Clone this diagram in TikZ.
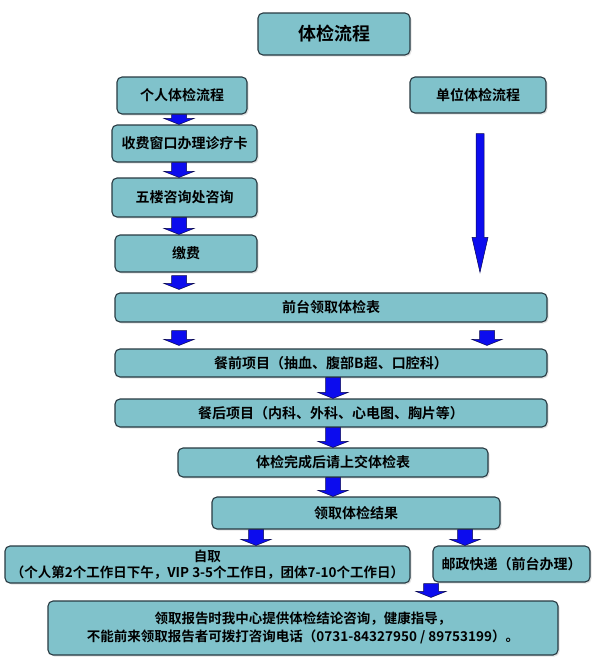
\documentclass[tikz,border=0pt]{standalone}
\usepackage{fontspec}
\setmainfont{Noto Sans CJK SC}[BoldFont={Noto Sans CJK SC Bold}]
\usetikzlibrary{calc,shadows}
\definecolor{boxfill}{RGB}{128,194,203}
\definecolor{boxedge}{RGB}{40,58,66}
\definecolor{arrblue}{RGB}{12,12,238}
\definecolor{arredge}{RGB}{10,10,80}
\begin{document}
\begin{tikzpicture}[x=1pt,y=-1pt,
  box/.style={draw=boxedge, line width=1.1pt, fill=boxfill, rounded corners=5pt,
    inner sep=0pt, align=center, font=\bfseries\fontsize{14}{17}\selectfont,
    drop shadow={opacity=0.22, shadow xshift=1.5pt, shadow yshift=-1.5pt}},
  sz/.style 2 args={minimum width=#1, minimum height=#2},
  barrow/.style n args={3}{fill=arrblue, draw=arredge, line width=0.5pt,
    to path={let \p1=(\tikztostart), \p2=(\tikztotarget) in
      (\x1-#1,\y1) -- (\x1+#1,\y1) -- (\x1+#1,\y2+#3) -- (\x1+#2,\y2+#3)
      -- (\x1,\y2) -- (\x1-#2,\y2+#3) -- (\x1-#1,\y2+#3) -- cycle}},
  small/.style={barrow={7.5pt}{15pt}{6pt}},
]
\useasboundingbox (0,0) rectangle (600,665);

% column coordinates for the arrows
\coordinate (colA) at (179,0);
\coordinate (colB) at (487,0);
\coordinate (colC) at (333,0);
\coordinate (colD) at (256,0);
\coordinate (colE) at (465,0);
\coordinate (colF) at (431,0);
\coordinate (colG) at (480,0);

\node[box,sz={152pt}{42pt},font=\bfseries\fontsize{18}{22}\selectfont] (title) at (334,34) {体检流程};
\node[box,sz={130pt}{37pt}] (geren) at (182,95.5) {个人体检流程};
\node[box,sz={136pt}{36pt}] (danwei) at (478,95) {单位体检流程};
\node[box,sz={145pt}{37pt}] (shoufei) at (184.5,143.5) {收费窗口办理诊疗卡};
\node[box,sz={145pt}{39pt}] (wulou) at (184.5,197.5) {五楼咨询处咨询};
\node[box,sz={142pt}{37pt}] (jiaofei) at (186,253.5) {缴费};
\node[box,sz={432pt}{29pt}] (qiantai) at (331,307.5) {前台领取体检表};
\node[box,sz={432pt}{28pt}] (canqian) at (331,363) {餐前项目（抽血、腹部B超、口腔科）};
\node[box,sz={432pt}{28pt}] (canhou) at (331,413) {餐后项目（内科、外科、心电图、胸片等）};
\node[box,sz={310pt}{29pt}] (wancheng) at (333,462.5) {体检完成后请上交体检表};
\node[box,sz={288pt}{32pt}] (lingqu) at (356,513) {领取体检结果};
\node[box,sz={405pt}{37pt},font=\bfseries\fontsize{13.5}{16}\selectfont] (ziqu) at (207.5,564.5)
  {自取\\（个人第2个工作日下午，VIP 3-5个工作日，团体7-10个工作日）};
\node[box,sz={157pt}{36pt}] (youzheng) at (511.5,564) {邮政快递（前台办理）};
\node[box,sz={510pt}{54pt},font=\bfseries\fontsize{13.5}{18}\selectfont] (report) at (303,628)
  {领取报告时我中心提供体检结论咨询，健康指导，\\不能前来领取报告者可拨打咨询电话（0731-84327950 / 89753199）。};

% block arrows
\draw[small] (geren.south -| colA) to (shoufei.north -| colA);
\draw[small] (shoufei.south -| colA) to (wulou.north -| colA);
\draw[small] (wulou.south -| colA) to (jiaofei.north -| colA);
\draw[small] ([yshift=-3pt]jiaofei.south -| colA) to ([yshift=3pt]qiantai.north -| colA);
\draw[barrow={4pt}{8pt}{35pt}] ([yshift=-20pt]danwei.south -| colG) to ([yshift=20pt]qiantai.north -| colG);
\draw[small] ([yshift=-8pt]qiantai.south -| colA) to ([yshift=3pt]canqian.north -| colA);
\draw[small] ([yshift=-8pt]qiantai.south -| colB) to ([yshift=3pt]canqian.north -| colB);
\draw[small] (canqian.south -| colC) to (canhou.north -| colC);
\draw[small] (canhou.south -| colC) to (wancheng.north -| colC);
\draw[small] (wancheng.south -| colC) to (lingqu.north -| colC);
\draw[small] (lingqu.south -| colD) to (ziqu.north -| colD);
\draw[small] (lingqu.south -| colE) to (youzheng.north -| colE);
\draw[small] (ziqu.south -| colF) to ([yshift=3pt]report.north -| colF);
\end{tikzpicture}
\end{document}
